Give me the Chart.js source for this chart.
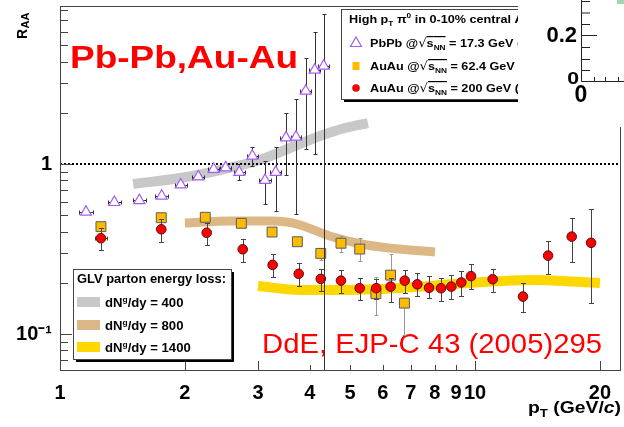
<!DOCTYPE html>
<html>
<head>
<meta charset="utf-8">
<script src="https://cdn.jsdelivr.net/npm/chart.js@4.4.0/dist/chart.umd.min.js"></script>
<style>
  html, body { margin: 0; padding: 0; background: #fff; }
  #wrap { width: 624px; height: 427px; }
</style>
</head>
<body>
<div id="wrap"><canvas id="raa" width="624" height="427"></canvas></div>
<script>
// ---------- data ----------
// PbPb @ 17.3 GeV (open triangles)
const pbX   = [1.155, 1.352, 1.553, 1.758, 1.954, 2.154, 2.345, 2.507, 2.704, 2.907, 3.119, 3.310, 3.504, 3.704, 3.909, 4.109, 4.32];
const pbY   = [0.522, 0.595, 0.611, 0.648, 0.755, 0.842, 0.931, 0.951, 0.894, 1.114, 0.802, 0.894, 1.428, 1.441, 2.688, 3.57, 3.77];
const pbLo  = [0.505, 0.58, 0.595, 0.63, 0.74, 0.825, 0.91, 0.93, 0.805, 0.977, 0.582, 0.529, 0.862, 0.506, 1.22, 1.14, 0.05];
const pbHi  = [0.54, 0.61, 0.63, 0.665, 0.77, 0.86, 0.95, 0.97, 1.0, 1.264, 1.037, 1.264, 2.003, 2.402, 4.19, 5.98, 7.63];
const pbXErr = [0.045, 0.05, 0.055, 0.06, 0.065, 0.07, 0.075, 0.08, 0.085, 0.09, 0.1, 0.1, 0.11, 0.11, 0.12, 0.12, 0.13];

// AuAu @ 62.4 GeV (squares)
const au62X  = [1.255, 1.754, 2.239, 2.735, 3.243, 3.732, 4.25, 4.754, 5.275, 5.77, 6.26, 6.76];
const au62Y  = [0.428, 0.483, 0.486, 0.448, 0.398, 0.349, 0.298, 0.342, 0.316, 0.1726, 0.222, 0.152];
const au62Lo = [0.415, 0.47, 0.472, 0.435, 0.386, 0.338, 0.272, 0.302, 0.268, 0.129, 0.154, 0.099];
const au62Hi = [0.44, 0.497, 0.5, 0.462, 0.41, 0.36, 0.319, 0.377, 0.366, 0.216, 0.296, 0.16];

// AuAu @ 200 GeV (circles)
const au200X  = [1.255, 1.754, 2.257, 2.756, 3.254, 3.76, 4.25, 4.754, 5.275, 5.78, 6.26, 6.77, 7.26, 7.75, 8.28, 8.77, 9.27, 9.78, 11.03, 13.05, 15.0, 17.1, 19.04];
const au200Y  = [0.366, 0.413, 0.394, 0.315, 0.255, 0.226, 0.211, 0.206, 0.186, 0.186, 0.19, 0.206, 0.196, 0.187, 0.186, 0.19, 0.201, 0.219, 0.21, 0.166, 0.289, 0.374, 0.344];
const au200Lo = [0.311, 0.349, 0.334, 0.266, 0.216, 0.191, 0.179, 0.174, 0.159, 0.16, 0.155, 0.174, 0.168, 0.162, 0.157, 0.161, 0.168, 0.183, 0.176, 0.134, 0.224, 0.265, 0.152];
const au200Hi = [0.419, 0.473, 0.452, 0.361, 0.296, 0.261, 0.24, 0.238, 0.213, 0.21, 0.215, 0.238, 0.228, 0.218, 0.214, 0.222, 0.235, 0.257, 0.242, 0.199, 0.351, 0.481, 0.541];
const au200XErr = [0.04, 0, 0, 0, 0, 0, 0, 0, 0, 0, 0, 0, 0, 0, 0, 0, 0, 0, 0, 0, 0, 0, 0];

// GLV parton energy loss bands
const glv400X  = [1.50, 1.946, 2.43, 3.03, 3.58, 4.23, 4.86, 5.52];
const glv400Y  = [0.763, 0.827, 0.922, 1.056, 1.242, 1.461, 1.628, 1.742];
const glv800X  = [2.0, 2.568, 3.21, 3.52, 3.79, 4.55, 5.49, 6.59, 8.01];
const glv800Y  = [0.45, 0.462, 0.462, 0.456, 0.438, 0.372, 0.334, 0.316, 0.304];
const glv1400X = [3.0, 3.79, 4.55, 6.59, 9.56, 13.8, 20.0];
const glv1400Y = [0.1916, 0.1815, 0.1815, 0.1865, 0.1995, 0.208, 0.1995];

// R_AA = 1 reference
const unityX = [1, 22.48];
const unityY = [1, 1];

// axes
const xTickVals   = [1, 2, 3, 4, 5, 6, 7, 8, 9, 10, 20];
const xTickLabels = ['1', '2', '3', '4', '5', '6', '7', '8', '9', '10', '20'];
const yTickVals   = [0.1, 1];
const yTickLabels = ['10\u207B\u00B9', '1'];
const yMinorVals  = [0.07, 0.08, 0.09, 0.2, 0.3, 0.4, 0.5, 0.6, 0.7, 0.8, 0.9, 2, 3, 4, 5, 6, 7, 8];

const pts = (xs, ys) => xs.map((x, i) => ({ x: x, y: ys[i] }));

const FONT = '"Liberation Sans", Arial, sans-serif';
const B = s => 'bold ' + s + 'px ' + FONT;

// ---------- helpers ----------
function rich(ctx, x, y, parts, opt) {
  opt = opt || {};
  let total = 0;
  parts.forEach(p => { ctx.font = p.f; total += ctx.measureText(p.t).width; });
  const sx = opt.w ? opt.w / total : (opt.sx || 1);
  ctx.save();
  ctx.translate(x, y);
  ctx.scale(sx, 1);
  let cx = 0;
  parts.forEach(p => {
    ctx.font = p.f;
    const w = ctx.measureText(p.t).width;
    ctx.fillText(p.t, cx, p.dy || 0);
    if (p.o) {
      ctx.fillRect(cx, -11, w, 1.2);
    }
    cx += w;
  });
  ctx.restore();
}

function drawErr(chart, e) {
  const ctx = chart.ctx, sx = chart.scales.x, sy = chart.scales.y, a = chart.chartArea;
  ctx.save();
  ctx.beginPath();
  ctx.rect(a.left, a.top, a.right - a.left, a.bottom - a.top);
  ctx.clip();
  ctx.strokeStyle = e.color;
  ctx.lineWidth = 1;
  e.x.forEach((xv, i) => {
    const px = Math.round(sx.getPixelForValue(xv)) + 0.5;
    const py = Math.round(sy.getPixelForValue(e.y[i])) + 0.5;
    const y1 = Math.round(sy.getPixelForValue(e.hi[i])) + 0.5;
    const y2 = Math.round(sy.getPixelForValue(e.lo[i])) + 0.5;
    ctx.beginPath();
    ctx.moveTo(px, y1); ctx.lineTo(px, y2);
    ctx.moveTo(px - e.cap, y1); ctx.lineTo(px + e.cap, y1);
    ctx.moveTo(px - e.cap, y2); ctx.lineTo(px + e.cap, y2);
    if (e.xe && e.xe[i]) {
      const x1 = Math.round(sx.getPixelForValue(xv - e.xe[i])) + 0.5;
      const x2 = Math.round(sx.getPixelForValue(xv + e.xe[i])) + 0.5;
      ctx.moveTo(x1, py); ctx.lineTo(x2, py);
      ctx.moveTo(x1, py - 2); ctx.lineTo(x1, py + 2);
      ctx.moveTo(x2, py - 2); ctx.lineTo(x2, py + 2);
    }
    ctx.stroke();
  });
  ctx.restore();
}

function shadowBox(ctx, x, y, w, h) {
  ctx.fillStyle = '#000';
  ctx.fillRect(x + 3, y + 3, w, h);
  ctx.fillStyle = '#fff';
  ctx.fillRect(x, y, w, h);
  ctx.strokeStyle = '#444';
  ctx.lineWidth = 1;
  ctx.strokeRect(x + 0.5, y + 0.5, w, h);
}

// dataset index -> error bars
const errSets = {
  0: { x: pbX, y: pbY, lo: pbLo, hi: pbHi, xe: pbXErr, color: '#333', cap: 2 },
  1: { x: au200X, y: au200Y, lo: au200Lo, hi: au200Hi, xe: au200XErr, color: '#444', cap: 2.5 },
  2: { x: au62X, y: au62Y, lo: au62Lo, hi: au62Hi, color: '#999', cap: 2 }
};

const decor = {
  id: 'decor',
  beforeDatasetsDraw(chart) {
    const ctx = chart.ctx;
    ctx.save();
    ctx.fillStyle = '#ff0000';
    rich(ctx, 70, 68, [{ t: 'Pb-Pb,Au-Au', f: B(32) }], { w: 228 });
    rich(ctx, 262, 353, [{ t: 'DdE, EJP-C 43 (2005)295', f: '28px ' + FONT }], { w: 340 });
    ctx.restore();
  },
  beforeDatasetDraw(chart, args) {
    const e = errSets[args.index];
    if (e) drawErr(chart, e);
  },
  afterDatasetsDraw(chart) {
    const ctx = chart.ctx, sx = chart.scales.x, sy = chart.scales.y, a = chart.chartArea;
    ctx.save();
    // frame
    ctx.strokeStyle = '#444';
    ctx.lineWidth = 1;
    ctx.strokeRect(a.left + 0.5, a.top + 0.5, a.right - a.left - 1, a.bottom - a.top - 1);
    // inner ticks
    ctx.beginPath();
    yMinorVals.forEach(v => {
      const p = Math.round(sy.getPixelForValue(v)) + 0.5;
      ctx.moveTo(a.left, p); ctx.lineTo(a.left + 8, p);
    });
    yTickVals.forEach(v => {
      const p = Math.round(sy.getPixelForValue(v)) + 0.5;
      ctx.moveTo(a.left, p); ctx.lineTo(a.left + 12, p);
    });
    xTickVals.forEach(v => {
      const p = Math.round(sx.getPixelForValue(v)) + 0.5;
      const len = (v === 2 || v === 3 || v === 10 || v === 20) ? 10 : 6;
      ctx.moveTo(p, a.bottom); ctx.lineTo(p, a.bottom - len);
    });
    ctx.stroke();

    // axis titles
    ctx.fillStyle = '#000';
    ctx.save();
    ctx.translate(27, 39);
    ctx.rotate(-Math.PI / 2);
    ctx.font = B(14);
    ctx.fillText('R', 0, 0);
    const wr = ctx.measureText('R').width;
    ctx.font = B(11);
    ctx.fillText('AA', wr + 0.5, 2);
    ctx.restore();
    rich(ctx, 528, 413, [
      { t: 'p', f: B(16) }, { t: 'T', f: B(11), dy: 4 },
      { t: ' (GeV/', f: B(16) }, { t: 'c', f: 'italic bold 16px ' + FONT }, { t: ')', f: B(16) }
    ], { w: 93 });

    // GLV legend
    shadowBox(ctx, 73, 269, 158, 90);
    ctx.fillStyle = '#000';
    rich(ctx, 77, 283, [{ t: 'GLV parton energy loss:', f: B(12.5) }], { w: 149 });
    const glvRows = [['400', '#c8c8c8', 302], ['800', '#dcb887', 325], ['1400', '#ffd700', 347]];
    glvRows.forEach(r => {
      ctx.fillStyle = r[1];
      ctx.fillRect(77, r[2] - 5, 23, 10);
      ctx.fillStyle = '#000';
      rich(ctx, 105, r[2] + 4.5, [
        { t: 'dN', f: B(12.5) }, { t: 'g', f: B(8), dy: -5 }, { t: '/dy = ' + r[0], f: B(12.5) }
      ], { sx: 1.05 });
    });

    // data legend
    shadowBox(ctx, 341, 9, 240, 90);
    ctx.fillStyle = '#000';
    rich(ctx, 349, 23, [
      { t: 'High p', f: B(11.5) }, { t: 'T', f: B(7.5), dy: 3 }, { t: ' \u03C0', f: B(11.5) },
      { t: '0', f: B(7.5), dy: -5 }, { t: ' in 0-10% central A+A', f: B(11.5) }
    ], { sx: 1.1 });
    const entries = [
      ['PbPb @', '17.3 GeV (WA98)', 43],
      ['AuAu @', '62.4 GeV (PHENIX)', 66],
      ['AuAu @', '200 GeV (PHENIX)', 88]
    ];
    entries.forEach(en => {
      rich(ctx, 370, en[2] + 4, [
        { t: en[0], f: B(11.5) }, { t: '\u221A', f: '12px "DejaVu Sans"' },
        { t: 's', f: B(11.5), o: 1 }, { t: 'NN', f: B(7.5), dy: 3, o: 1 },
        { t: ' = ' + en[1], f: B(11.5) }
      ], { sx: 1.1 });
    });
    // legend symbols
    ctx.strokeStyle = '#a55cf5';
    ctx.lineWidth = 1.2;
    ctx.beginPath();
    ctx.moveTo(356, 37); ctx.lineTo(361.5, 46.5); ctx.lineTo(350.5, 46.5); ctx.closePath();
    ctx.stroke();
    ctx.fillStyle = '#ffbb00';
    ctx.fillRect(352.5, 62, 7, 8);
    ctx.fillStyle = '#ff0000';
    ctx.beginPath(); ctx.arc(356, 88, 3.8, 0, Math.PI * 2); ctx.fill();

    // fragment of the neighbouring panel (top right)
    ctx.fillStyle = '#fff';
    ctx.fillRect(518, 0, 106, 127);
    ctx.strokeStyle = '#222';
    ctx.lineWidth = 1;
    ctx.beginPath();
    ctx.moveTo(581.5, 0); ctx.lineTo(581.5, 81.5); ctx.lineTo(624, 81.5);
    [1, 12.5, 24, 47, 59, 70].forEach(y => { ctx.moveTo(582, y + 0.5); ctx.lineTo(590, y + 0.5); });
    ctx.moveTo(582, 35.5); ctx.lineTo(597, 35.5);
    [594, 605, 618].forEach(x => { ctx.moveTo(x + 0.5, 81); ctx.lineTo(x + 0.5, 77); });
    ctx.stroke();
    ctx.fillStyle = '#000';
    ctx.textAlign = 'right';
    ctx.font = B(22);
    ctx.fillText('0.2', 577, 41.5);
    ctx.save();
    ctx.translate(579, 83.5);
    ctx.scale(1.25, 1);
    ctx.font = B(17);
    ctx.fillText('0', 0, 0);
    ctx.restore();
    ctx.textAlign = 'left';
    ctx.font = B(23);
    ctx.fillText('0', 574.5, 101.5);
    ctx.fillStyle = '#9fd6b4';
    ctx.fillRect(617, 0, 7, 4);
    ctx.restore();
  }
};

Chart.defaults.font.family = FONT;
Chart.defaults.color = '#000';

new Chart(document.getElementById('raa'), {
  type: 'scatter',
  data: {
    datasets: [
      {
        label: 'PbPb 17.3 GeV',
        data: pts(pbX, pbY),
        pointStyle: 'triangle',
        pointRadius: 6.3,
        backgroundColor: '#ffffff',
        borderColor: '#a55cf5',
        borderWidth: 1.2
      },
      {
        label: 'AuAu 200 GeV',
        data: pts(au200X, au200Y),
        pointStyle: 'circle',
        pointRadius: 4.8,
        backgroundColor: '#ff0000',
        borderColor: '#551010',
        borderWidth: 1
      },
      {
        label: 'AuAu 62.4 GeV',
        data: pts(au62X, au62Y),
        pointStyle: 'rect',
        pointRadius: 7,
        backgroundColor: '#ffbb00',
        borderColor: '#5a5a5a',
        borderWidth: 1
      },
      {
        label: 'unity',
        type: 'line',
        data: pts(unityX, unityY),
        borderColor: '#000',
        borderWidth: 2,
        borderDash: [2, 2],
        pointRadius: 0
      },
      {
        label: 'dNg/dy = 400',
        type: 'line',
        data: pts(glv400X, glv400Y),
        borderColor: '#c8c8c8',
        borderWidth: 10,
        borderCapStyle: 'butt',
        cubicInterpolationMode: 'monotone',
        pointRadius: 0
      },
      {
        label: 'dNg/dy = 800',
        type: 'line',
        data: pts(glv800X, glv800Y),
        borderColor: '#dcb887',
        borderWidth: 9,
        borderCapStyle: 'butt',
        cubicInterpolationMode: 'monotone',
        pointRadius: 0
      },
      {
        label: 'dNg/dy = 1400',
        type: 'line',
        data: pts(glv1400X, glv1400Y),
        borderColor: '#ffd700',
        borderWidth: 10,
        borderCapStyle: 'butt',
        cubicInterpolationMode: 'monotone',
        pointRadius: 0
      }
    ]
  },
  options: {
    responsive: false,
    animation: false,
    devicePixelRatio: 1,
    layout: { autoPadding: false, padding: { left: 0, top: 6, right: 3, bottom: 0 } },
    plugins: { legend: { display: false }, tooltip: { enabled: false } },
    scales: {
      x: {
        type: 'logarithmic',
        min: 1,
        max: 22.48,
        afterBuildTicks: s => { s.ticks = xTickVals.map(v => ({ value: v })); },
        afterFit: s => { s.height = 56; s.paddingLeft = 0; s.paddingRight = 0; },
        grid: { display: false, drawTicks: false },
        border: { display: false },
        ticks: {
          autoSkip: false,
          maxRotation: 0,
          padding: 10,
          color: '#000',
          font: { size: 20, weight: 'bold' },
          callback: (v, i) => xTickLabels[i]
        }
      },
      y: {
        type: 'logarithmic',
        min: 0.0606,
        max: 8.5,
        afterBuildTicks: s => { s.ticks = yTickVals.map(v => ({ value: v })); },
        afterFit: s => { s.width = 60; s.paddingTop = 0; s.paddingBottom = 0; },
        grid: { display: false, drawTicks: false },
        border: { display: false },
        ticks: {
          autoSkip: false,
          padding: 8,
          color: '#000',
          font: { size: 20, weight: 'bold' },
          callback: (v, i) => yTickLabels[i]
        }
      }
    }
  },
  plugins: [decor]
});
</script>
</body>
</html>
